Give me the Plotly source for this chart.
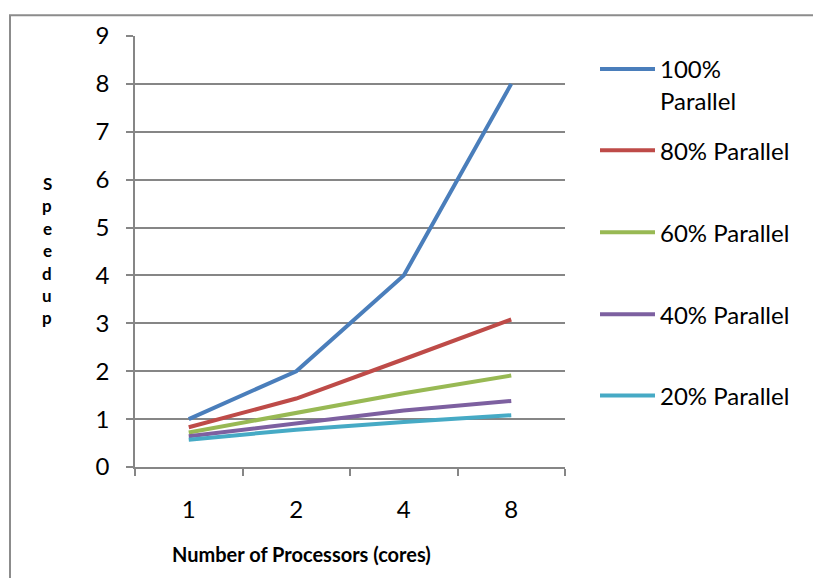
import plotly.graph_objects as go

categories = ["1", "2", "4", "8"]
series_names = ["100%<br>Parallel", "80% Parallel", "60% Parallel", "40% Parallel", "20% Parallel"]
p100 = [1.0, 2.0, 4.0, 8.0]
p80 = [0.83, 1.43, 2.25, 3.08]
p60 = [0.72, 1.12, 1.54, 1.91]
p40 = [0.64, 0.91, 1.18, 1.38]
p20 = [0.57, 0.78, 0.94, 1.08]
colors = ["#4A7EBB", "#BE4B48", "#98B954", "#7D60A0", "#46AAC5"]
y_ticks = list(range(0, 10))

OFF = 8  # page body margin
W, H = 821 - 2 * OFF, 586 - 2 * OFF
L, R, T, B = 135 - OFF, 565 - OFF, 31 - OFF, 467 - OFF  # plot area in figure pixels
pw, ph = R - L, B - T


def px(x):  # screen x -> paper
    return (x - OFF - L) / pw


def py(y):  # screen y -> paper
    return (B - (y - OFF)) / ph


FONT = "Lato"
fig = go.Figure()
all_series = [p100, p80, p60, p40, p20]
legend_rows = [80.5, 147, 230, 313, 395]
legend_names = ["legend", "legend2", "legend3", "legend4", "legend5"]
for i, (name, vals) in enumerate(zip(series_names, all_series)):
    fig.add_trace(go.Scatter(
        x=categories, y=vals, mode="lines", name=name,
        line=dict(color=colors[i], width=4),
        legend=legend_names[i],
    ))

layout_legends = {}
for i, ln in enumerate(legend_names):
    layout_legends[ln] = dict(
        x=px(595), y=py(legend_rows[i]), xanchor="left", yanchor="middle",
        font=dict(family=FONT, size=24, color="#000"), bgcolor="rgba(0,0,0,0)",
        itemwidth=55, valign="top", borderwidth=0,
    )

fig.update_layout(
    width=W, height=H,
    margin=dict(l=L, r=W - R, t=T, b=H - B),
    paper_bgcolor="white", plot_bgcolor="white",
    font=dict(family=FONT, size=24, color="#000"),
    showlegend=True,
    xaxis=dict(
        type="category", categoryorder="array", categoryarray=categories,
        range=[-0.5, 3.5], showgrid=False, showline=True, linecolor="#868686", linewidth=1.5,
        ticks="outside", tickson="boundaries", ticklen=7, tickcolor="#868686", tickwidth=1.5,
        tickfont=dict(family=FONT, size=24, color="#000"), ticklabelstandoff=20,
        zeroline=False, fixedrange=True,
    ),
    yaxis=dict(
        range=[0, 9], tickvals=y_ticks, showgrid=True, gridcolor="#868686", gridwidth=1.5,
        showline=True, linecolor="#868686", linewidth=1.5, ticks="outside", ticklen=7,
        tickcolor="#868686", tickwidth=1.5, zeroline=False,
        tickfont=dict(family=FONT, size=24, color="#000"), ticklabelstandoff=12,
    ),
    **layout_legends,
)

# outer chart border
fig.add_shape(type="rect", xref="paper", yref="paper",
              x0=px(10), x1=px(860), y0=py(620), y1=py(10),
              line=dict(color="#8C8C8C", width=2), fillcolor="rgba(0,0,0,0)", layer="below")

# x-axis title
fig.add_annotation(text="<b>Number of Processors (cores)</b>", xref="paper", yref="paper",
                   x=px(301), y=py(555), xanchor="center", yanchor="middle", showarrow=False,
                   font=dict(family=FONT, size=20, color="#000"))

# stacked y-axis title
letters = list("Speedup")
for k, ch in enumerate(letters):
    fig.add_annotation(text=f"<b>{ch}</b>", xref="paper", yref="paper",
                       x=px(47), y=py(180 + k * 22.7), xanchor="center", yanchor="middle",
                       showarrow=False, borderpad=0,
                       font=dict(family=FONT, size=17, color="#000"))

fig.write_html("out.html")
